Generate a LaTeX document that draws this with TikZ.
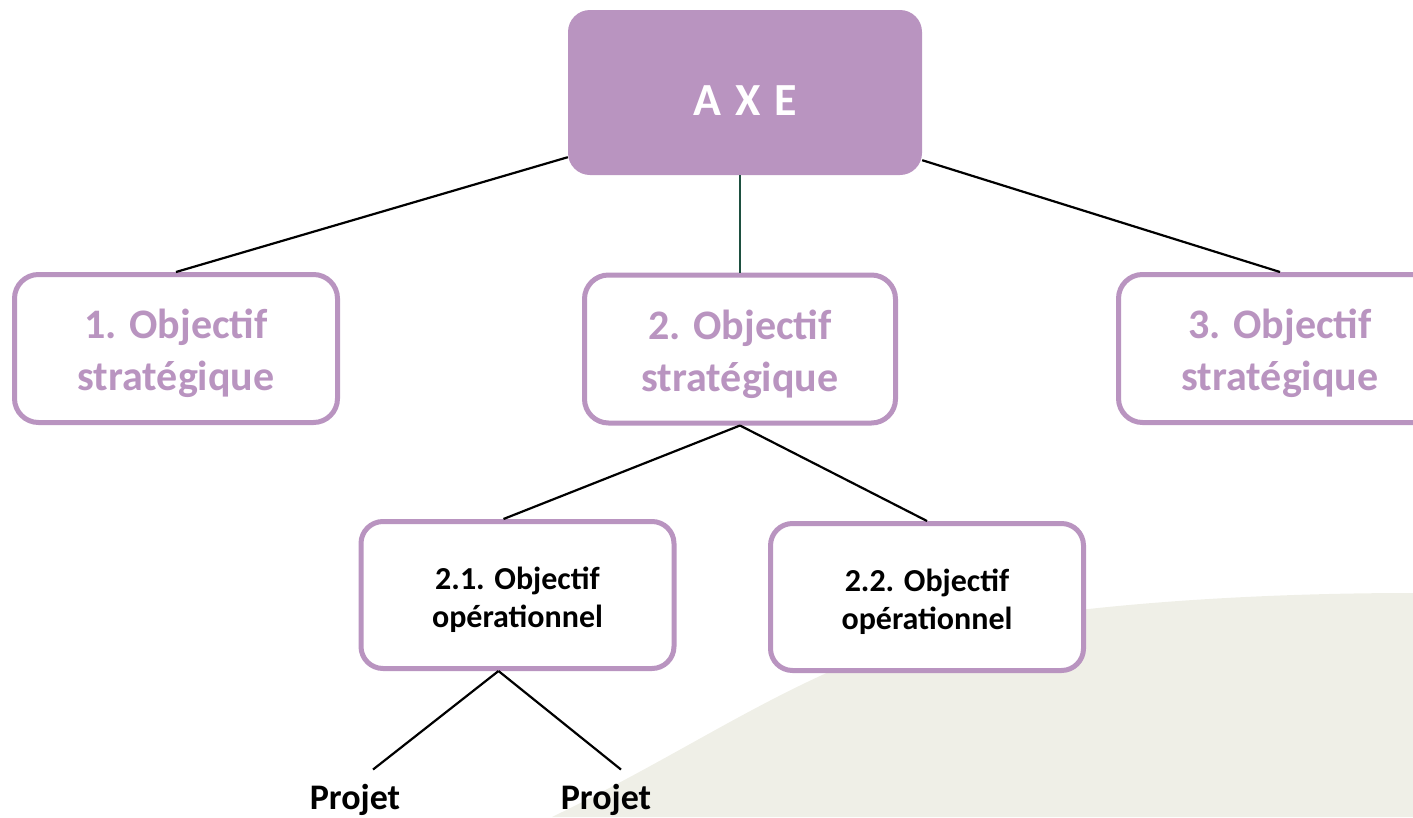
\documentclass[tikz,border=0pt]{standalone}
\usepackage{fontspec}
\setmainfont{Carlito}
\usetikzlibrary{positioning}
\definecolor{axepurple}{RGB}{185,148,192}
\definecolor{axegreen}{RGB}{30,80,64}
\definecolor{bgsage}{RGB}{239,239,231}
\newcommand{\stratlift}{\rule{0pt}{40pt}}
\newcommand{\operlift}{\rule{0pt}{32pt}}

\begin{document}
\begin{tikzpicture}[x=1pt,y=-1pt,line join=bevel,
  axebox/.style={rectangle,rounded corners=22pt,fill=axepurple,text=white,minimum width=354pt,minimum height=165pt,text height=45pt,font=\bfseries\fontsize{46}{50}\selectfont},
  strat/.style={rectangle,rounded corners=24pt,draw=axepurple,line width=5pt,fill=white,text=axepurple,minimum width=323pt,minimum height=148pt,align=center,font=\bfseries\fontsize{42}{52}\selectfont},
  oper/.style={rectangle,rounded corners=22pt,draw=axepurple,line width=5pt,fill=white,text=black,minimum width=313pt,minimum height=147pt,align=center,font=\bfseries\fontsize{32}{38}\selectfont},
  proj/.style={inner sep=14pt,font=\bfseries\fontsize{36}{40}\selectfont},
  link/.style={line width=2.2pt}]
\useasboundingbox (0,0) rectangle (1413,817);
\clip (0,0) rectangle (1413,817);
\fill [bgsage] (552,817) .. controls (690,750) and (770,690) .. (900,643) .. controls (1000,612) and (1200,593) .. (1413,593) -- (1413,817) -- cycle;

\node [axebox] at (745,92.5) (s0) {A\hspace{14pt}X\hspace{14pt}E};
\node [strat] at (176,348.5) (s1) {\stratlift 1. Objectif\\stratégique};
\node [strat,minimum width=311pt] at (740,349) (s2) {\stratlift 2. Objectif\\stratégique};
\node [strat] at (1280,348.5) (s3) {\stratlift 3. Objectif\\stratégique};
\node [oper] at (517.5,595) (s4) {\operlift 2.1. Objectif\\opérationnel};
\node [oper] at (927,597) (s5) {\operlift 2.2. Objectif\\opérationnel};
\node [proj,anchor=base] at (355,809) (s6) {Projet};
\node [proj,anchor=base] at (606,809) (s7) {Projet};

\draw [link] ([yshift=18pt]s0.south west) -- (s1.north);
\draw [link] ([yshift=15pt]s0.south east) -- (s3.north);
\draw [link,axegreen] (s2.north |- s0.south) -- (s2.north);
\draw [link] (s2.south) -- ([xshift=-14pt]s4.north);
\draw [link] (s2.south) -- (s5.north);
\draw [link] ([xshift=-19pt]s4.south) -- ([xshift=18pt]s6.north);
\draw [link] ([xshift=-19pt]s4.south) -- ([xshift=15pt]s7.north);

\end{tikzpicture}
\end{document}
